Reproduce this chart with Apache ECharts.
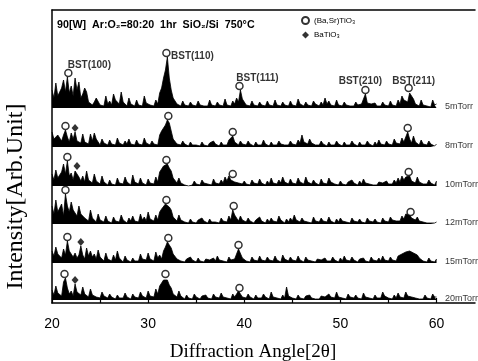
<!DOCTYPE html>
<html><head><meta charset="utf-8">
<script src="https://cdn.jsdelivr.net/npm/echarts@6/dist/echarts.min.js"></script>
<style>html,body{margin:0;padding:0;background:#fff}#c{width:478px;height:361px}#e{position:absolute;left:0;top:0;font:9px monospace;white-space:pre-wrap;width:478px}</style>
</head><body><div id="c"></div><div id="e"></div>
<script>
// ---------- DATA ----------
const angles = [
20,20.2,20.4,20.6,20.8,21,21.2,21.4,21.6,21.8,
22,22.2,22.4,22.6,22.8,23,23.2,23.4,23.6,23.8,
24,24.2,24.4,24.6,24.8,25,25.2,25.4,25.6,25.8,
26,26.2,26.4,26.6,26.8,27,27.2,27.4,27.6,27.8,
28,28.2,28.4,28.6,28.8,29,29.2,29.4,29.6,29.8,
30,30.2,30.4,30.6,30.8,31,31.2,31.4,31.6,31.8,
32,32.2,32.4,32.6,32.8,33,33.2,33.4,33.6,33.8,
34,34.2,34.4,34.6,34.8,35,35.2,35.4,35.6,35.8,
36,36.2,36.4,36.6,36.8,37,37.2,37.4,37.6,37.8,
38,38.2,38.4,38.6,38.8,39,39.2,39.4,39.6,39.8,
40,40.2,40.4,40.6,40.8,41,41.2,41.4,41.6,41.8,
42,42.2,42.4,42.6,42.8,43,43.2,43.4,43.6,43.8,
44,44.2,44.4,44.6,44.8,45,45.2,45.4,45.6,45.8,
46,46.2,46.4,46.6,46.8,47,47.2,47.4,47.6,47.8,
48,48.2,48.4,48.6,48.8,49,49.2,49.4,49.6,49.8,
50,50.2,50.4,50.6,50.8,51,51.2,51.4,51.6,51.8,
52,52.2,52.4,52.6,52.8,53,53.2,53.4,53.6,53.8,
54,54.2,54.4,54.6,54.8,55,55.2,55.4,55.6,55.8,
56,56.2,56.4,56.6,56.8,57,57.2,57.4,57.6,57.8,
58,58.2,58.4,58.6,58.8,59,59.2,59.4,59.6,59.8,
60];
const pressures = ['5mTorr','8mTorr','10mTorr','12mTorr','15mTorr','20mTorr'];
const int5 = [
18,10,25,12,14,20,28,16,31,15, 22,12,30,18,26,10,14,20,16,6,
8,3,6,10,9,3,5,2,12,4, 7,3,14,8,9,4,16,6,6,2,
10,4,5,2,8,3,4,2,12,5, 6,3,5,2,8,4,15,20,30,38,
51,30,18,10,8,4,5,2,7,3, 4,2,6,3,4,2,7,3,5,2,
4,2,8,3,5,2,6,3,4,2, 9,3,5,2,7,4,10,6,18,9,
8,3,5,2,7,3,4,2,6,3, 5,2,7,3,4,2,8,3,3,2,
6,3,4,2,7,3,5,2,9,4, 4,2,6,3,5,2,7,4,4,2,
6,3,10,4,7,3,5,2,8,3, 4,2,6,3,5,2,4,2,6,3,
5,4,6,14,5,3,4,2,5,2, 4,2,6,3,5,2,7,3,5,2,
8,4,12,8,10,6,15,12,9,4, 5,2,8,3,4,2,3,1,8,3,
4];
const int8 = [
15,8,9,12,10,6,12,17,10,5, 14,8,15,6,8,4,13,5,7,3,
13,6,14,8,5,2,8,4,4,2, 7,3,5,2,9,4,4,2,6,3,
8,3,4,2,7,3,5,2,9,4, 4,2,6,3,5,2,12,16,18,22,
27,24,16,8,7,3,4,2,6,3, 3,1,5,2,4,2,3,1,5,2,
3,1,4,2,6,3,3,1,5,2, 4,2,7,5,11,5,5,2,6,3,
4,2,6,3,3,1,5,2,4,2, 7,3,3,1,5,2,4,2,6,3,
5,2,4,2,6,3,5,2,7,4, 12,5,6,3,8,4,5,2,4,2,
6,3,3,1,5,2,4,2,6,3, 3,1,5,2,4,2,6,3,3,1,
5,2,4,2,6,3,3,1,5,2, 7,3,4,2,6,3,5,2,8,4,
6,3,9,5,10,15,8,4,11,5, 5,2,7,3,4,2,6,3,3,1,
3];
const int10 = [
12,6,16,8,10,14,22,12,25,10, 13,6,15,14,9,5,10,4,15,6,
8,3,12,5,6,2,10,4,4,1, 6,2,3,1,8,3,5,2,9,4,
4,1,11,4,5,2,8,3,3,1, 7,3,5,2,9,4,14,17,20,22,
22,18,15,8,6,3,8,3,3,1, 0,0,2,1,5,2,3,1,6,3,
4,2,3,1,7,3,4,2,6,3, 9,5,10,6,8,4,6,3,4,2,
5,2,3,1,6,3,4,2,7,3, 3,1,5,2,8,3,4,2,6,3,
9,4,5,2,7,3,4,2,8,4, 5,2,9,4,4,2,6,3,3,1,
7,3,5,2,8,4,4,2,3,1, 5,2,2,1,4,2,6,3,3,1,
5,2,7,3,4,2,3,1,2,1, 4,2,3,1,5,2,4,2,6,3,
8,4,10,6,9,10,10,5,7,3, 9,4,5,2,4,2,6,3,3,1,
5];
const int12 = [
18,10,24,12,14,20,8,30,18,12, 22,14,15,8,18,10,12,6,8,3,
14,6,6,2,10,4,5,2,8,3, 4,1,7,3,5,2,9,4,3,1,
6,3,8,3,5,2,10,4,7,3, 12,5,6,3,9,4,12,15,16,20,
20,17,14,7,6,3,9,4,4,2, 3,1,5,2,3,1,4,2,6,3,
3,1,5,2,4,2,3,1,6,3, 5,2,8,4,14,9,6,3,8,4,
5,2,6,3,3,1,4,2,7,3, 3,1,5,2,6,3,4,2,8,4,
3,1,5,2,6,3,9,4,4,2, 6,3,5,2,3,1,7,3,4,2,
6,3,5,2,7,3,3,1,5,2, 6,3,4,2,3,1,6,3,4,2,
5,2,3,1,6,3,4,2,5,2, 3,1,6,3,5,2,7,4,6,3,
5,3,8,5,10,8,9,6,8,4, 7,3,4,2,3,1,2,1,3,1,
2];
const int15 = [
12,7,16,9,9,5,14,8,22,12, 12,6,10,5,8,17,8,4,15,7,
12,6,9,4,13,6,6,2,10,4, 5,2,8,3,12,5,4,1,7,3,
3,1,5,2,4,2,9,4,6,3, 10,4,4,2,11,5,8,4,12,16,
21,18,15,9,10,4,5,2,3,1, 4,2,6,3,3,1,5,2,2,1,
4,2,3,1,5,2,7,3,4,2, 3,1,6,3,5,4,9,14,12,5,
5,2,3,1,6,3,4,2,7,3, 5,2,6,3,4,2,7,3,3,1,
8,4,5,2,6,3,4,2,7,3, 3,1,6,3,5,2,2,1,4,2,
3,1,5,2,4,2,6,3,3,1, 5,2,7,3,4,2,6,3,3,1,
4,2,5,2,3,1,6,3,4,2, 5,2,7,3,5,2,6,3,4,2,
7,5,9,10,11,12,12,11,10,9, 8,5,4,2,2,1,5,2,3,1,
4];
const int20 = [
10,5,14,7,8,4,18,22,12,6, 9,4,16,8,10,5,13,6,7,3,
11,5,6,3,5,2,8,4,4,2, 6,3,3,1,5,2,4,2,7,3,
3,1,6,3,4,2,8,4,5,2, 9,4,6,3,11,6,14,17,20,22,
20,15,12,6,6,3,9,4,3,1, 5,2,2,1,6,3,3,1,4,2,
5,2,3,1,6,3,4,2,7,3, 5,2,3,1,6,3,4,9,8,3,
4,2,6,3,3,1,5,2,4,2, 6,3,3,1,8,3,4,2,3,1,
5,2,13,4,4,2,3,1,5,2, 3,1,4,2,5,2,3,1,2,1,
4,2,3,1,6,3,4,2,8,3, 5,2,3,1,6,3,4,2,5,2,
3,1,7,3,4,2,3,1,5,2, 4,2,8,4,4,2,3,1,5,2,
7,3,5,2,8,4,6,3,4,2, 3,1,2,1,5,2,3,1,6,3,
3];
const traces = [int5, int8, int10, int12, int15, int20];
const bst5 = [[21.7,35],[31.9,55],[39.5,22],[52.6,18],[57.1,20]];
const bst8 = [[21.4,21],[32.1,31],[38.8,15],[57.0,19]];
const bst10 = [[21.6,29],[31.9,26],[38.8,12],[57.1,14]];
const bst12 = [[21.4,34],[31.9,24],[38.9,18],[57.3,12]];
const bst15 = [[21.6,26],[32.1,25],[39.4,18]];
const bst20 = [[21.3,26],[31.8,26],[39.5,12]];
const bstMarks = [bst5, bst8, bst10, bst12, bst15, bst20];
const bat5 = [];
const bat8 = [[22.4,19]];
const bat10 = [[22.6,20]];
const bat12 = [];
const bat15 = [[23.0,21]];
const bat20 = [[22.4,20]];
const batMarks = [bat5, bat8, bat10, bat12, bat15, bat20];
const peakLabels = ['BST(100)','BST(110)','BST(111)','BST(210)','BST(211)'];
const xTickLabels = [20,30,40,50,60];
const xTickValues = [20,25,30,35,40,45,50,55,60];
const seriesNames = ['(Ba,Sr)TiO\u2083','BaTiO\u2083'];
const titleText = '90[W]  Ar:O\u2082=80:20  1hr  SiO\u2082/Si  750\u00B0C';

// ---------- LAYOUT / STYLE ----------
const W = 478, H = 361;
const baselines = [108,147,186,224,263,300];
const labelOffsets = [[21,-8],[26,3],[18,-8],[-5,-9],[5,-7]];
const sans = 'Liberation Sans, Arial, sans-serif';
const serif = 'Liberation Serif, Times New Roman, serif';
const XMIN = 20, XMAX = 64;

function build(useCustom) {
  const grid = [{left:52, right:3, top:10, bottom:58, containLabel:false, outerBoundsMode:'none'}];
  const xAxis = [
    {gridIndex:0, type:'value', min:XMIN, max:XMAX, position:'bottom', interval:5,
     axisLine:{show:true, lineStyle:{color:'#000', width:1.5}},
     axisTick:Object.assign({show:true, inside:true, length:5, lineStyle:{color:'#000', width:1.2}}, useCustom ? {customValues:xTickValues} : {}),
     axisLabel:Object.assign({show:true, color:'#000', fontSize:14, fontFamily:sans, margin:14},
        useCustom ? {customValues:xTickLabels} : {formatter:(v) => xTickLabels.indexOf(v) >= 0 ? String(v) : ''}),
     splitLine:{show:false},
     name:'Diffraction Angle[2\u03B8]', nameLocation:'middle', nameGap:40,
     nameTextStyle:{fontFamily:serif, fontSize:19, color:'#000', padding:[0,21,0,0]}},
    {gridIndex:0, type:'value', min:XMIN, max:XMAX, position:'top',
     axisLine:{show:true, lineStyle:{color:'#000', width:1.5}}, axisTick:{show:false}, axisLabel:{show:false}, splitLine:{show:false}}
  ];
  const yAxis = [
    {gridIndex:0, type:'value', min:0, max:1, position:'left',
     axisLine:{show:true, lineStyle:{color:'#000', width:1.5}}, axisTick:{show:false}, axisLabel:{show:false}, splitLine:{show:false},
     name:'Intensity[Arb.Unit]', nameLocation:'middle', nameGap:24,
     nameTextStyle:{fontFamily:serif, fontSize:24, color:'#000', padding:[0,80,0,0]}}
  ];
  const series = [];
  traces.forEach((vals, t) => {
    const gi = t + 1, xi = t + 2, yi = t + 1;
    grid.push({left:52, right:3, bottom:H - baselines[t], height:60, containLabel:false, outerBoundsMode:'none'});
    xAxis.push({gridIndex:gi, type:'value', min:XMIN, max:XMAX, show:false});
    yAxis.push({gridIndex:gi, type:'value', min:0, max:60, show:false});
    series.push({
      type:'line', xAxisIndex:xi, yAxisIndex:yi, silent:true,
      data: angles.map((a, k) => [a, vals[k]]),
      symbol:'none', lineStyle:{color:'#000', width:0.8}, areaStyle:{color:'#000', opacity:1}, z:2
    });
    series.push({
      type:'scatter', name:seriesNames[0], xAxisIndex:xi, yAxisIndex:yi,
      symbol:'circle', symbolSize:7, itemStyle:{color:'#fff', borderColor:'#000', borderWidth:1.5}, z:5,
      data: bstMarks[t].map((p, k) => t === 0 ? {value:p, label:{show:true, offset:labelOffsets[k]}} : {value:p}),
      label:{show:false, position:'inside', formatter:(p) => peakLabels[p.dataIndex],
        fontFamily:sans, fontWeight:'bold', fontSize:10, color:'#000'}
    });
    series.push({
      type:'scatter', name:seriesNames[1], xAxisIndex:xi, yAxisIndex:yi,
      symbol:'diamond', symbolSize:[7,8], itemStyle:{color:'#000'}, z:5,
      data: batMarks[t]
    });
    series.push({
      type:'scatter', xAxisIndex:xi, yAxisIndex:yi, symbolSize:1, itemStyle:{color:'rgba(0,0,0,0)'}, silent:true,
      data:[[angles[angles.length-1], 0]],
      label:{show:true, position:'right', distance:8, offset:[0,-1], formatter:pressures[t],
        fontFamily:sans, fontSize:9, color:'#000'}
    });
  });
  return {
    backgroundColor:'#fff',
    animation:false,
    title:{text:titleText, left:57, top:20, padding:0,
      textStyle:{fontFamily:sans, fontWeight:'bold', fontSize:10.7, color:'#000'}},
    legend:{data:[{name:seriesNames[0], icon:'circle'}, {name:seriesNames[1], icon:'diamond'}],
      orient:'vertical', left:301, top:16, padding:0, itemWidth:7, itemHeight:7, itemGap:6, selectedMode:false,
      textStyle:{fontFamily:sans, fontSize:8, color:'#000'}},
    grid, xAxis, yAxis, series
  };
}

const bad = traces.map((t, i) => t.length !== angles.length ? pressures[i] + ':' + t.length : '').filter(Boolean);
if (bad.length) document.getElementById('e').textContent = 'LEN ' + angles.length + ' ' + bad.join(' ');
let chart = echarts.init(document.getElementById('c'), null, {renderer:'canvas'});
try {
  chart.setOption(build(true));
} catch (e) {
  chart.dispose();
  chart = echarts.init(document.getElementById('c'), null, {renderer:'canvas'});
  try { chart.setOption(build(false)); } catch (e2) { document.getElementById('e').textContent += ' E2 ' + e2.stack; }
}
</script></body></html>
